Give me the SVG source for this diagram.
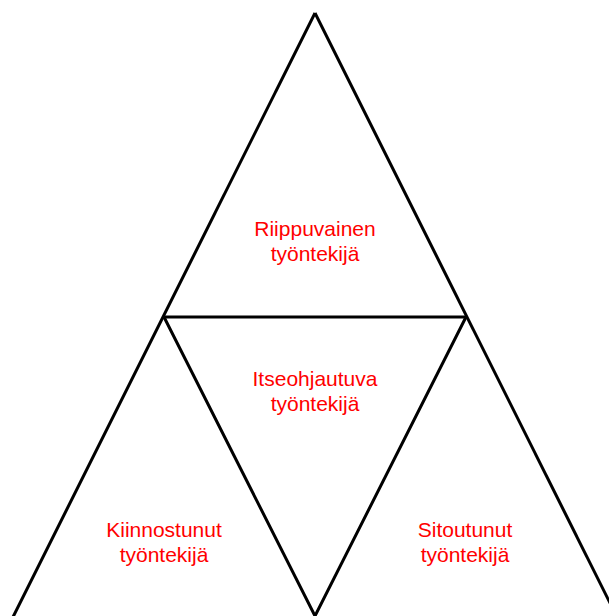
<svg xmlns="http://www.w3.org/2000/svg" width="609" height="616" viewBox="0 0 609 616">
  <style>
    .edge { fill: none; stroke: #000; stroke-width: 3; stroke-linejoin: miter; stroke-linecap: butt; }
    .label { font-family: "Liberation Sans", Arial, sans-serif; font-size: 21px; fill: #ff0000; text-anchor: middle; }
  </style>
  <rect width="609" height="616" fill="#ffffff"/>

  <g id="connectors">
    <!-- outer triangle sides, running off the bottom edge -->
    <line class="edge" x1="315" y1="13" x2="11" y2="621"/>
    <line class="edge" x1="315" y1="13" x2="619" y2="621"/>
    <!-- middle horizontal -->
    <line class="edge" x1="164" y1="317" x2="466" y2="317"/>
    <!-- inverted inner triangle -->
    <polyline class="edge" points="164,317 315,616 466,317"/>
  </g>

  <g id="node-riippuvainen">
    <text class="label" x="315" y="235.5">Riippuvainen</text>
    <text class="label" x="315" y="260.5">työntekijä</text>
  </g>

  <g id="node-itseohjautuva">
    <text class="label" x="315" y="385.5">Itseohjautuva</text>
    <text class="label" x="315" y="410.5">työntekijä</text>
  </g>

  <g id="node-kiinnostunut">
    <text class="label" x="164" y="536.5">Kiinnostunut</text>
    <text class="label" x="164" y="561.5">työntekijä</text>
  </g>

  <g id="node-sitoutunut">
    <text class="label" x="465" y="536.5">Sitoutunut</text>
    <text class="label" x="465" y="561.5">työntekijä</text>
  </g>
</svg>
